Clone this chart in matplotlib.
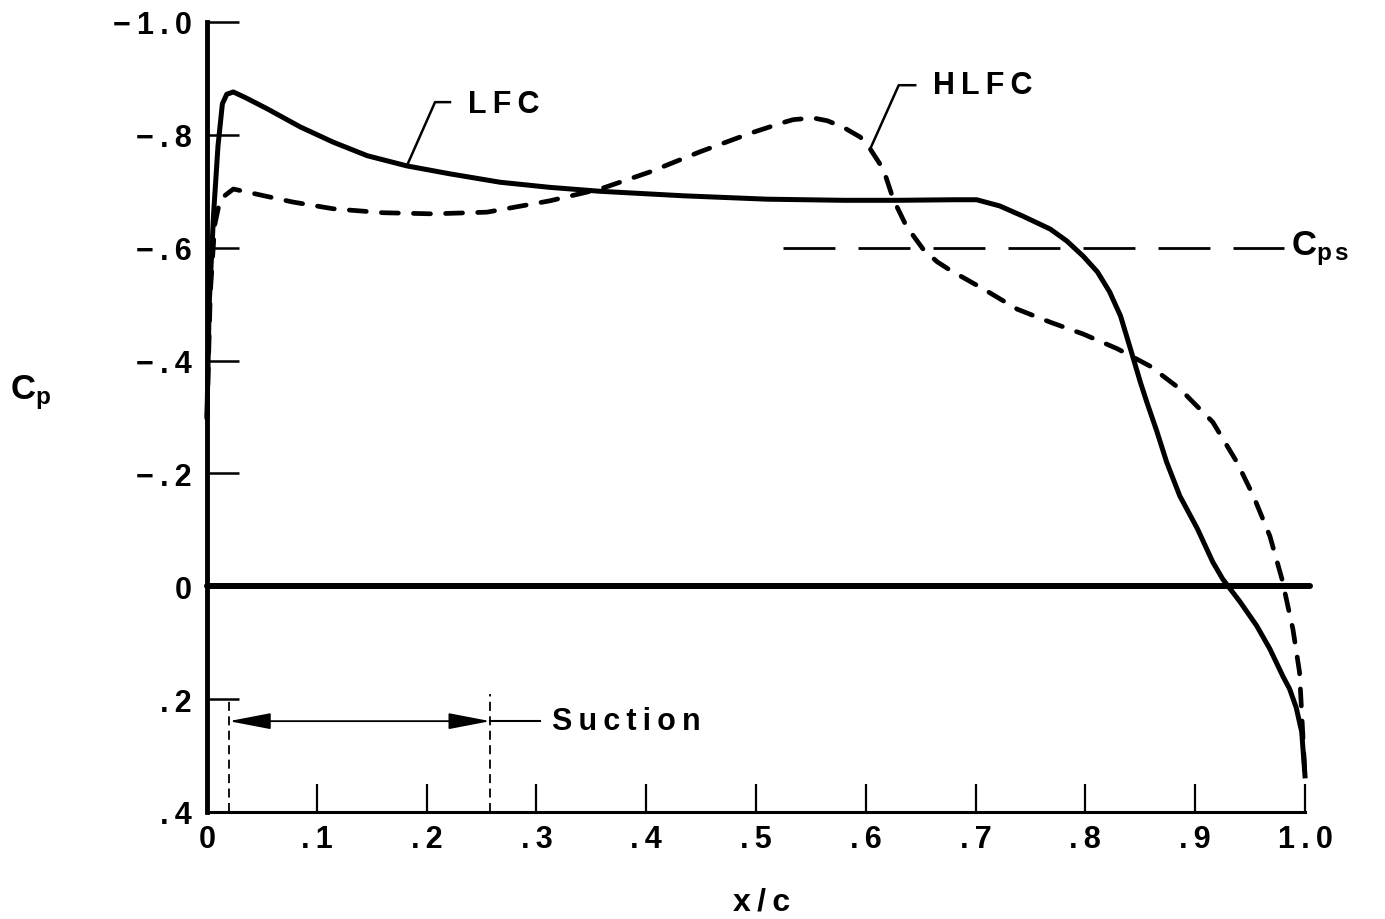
import matplotlib
matplotlib.use('Agg')
import matplotlib.pyplot as plt
from matplotlib import rcParams

rcParams['font.family'] = ['Liberation Sans', 'DejaVu Sans']
rcParams['font.weight'] = 'bold'
rcParams['mathtext.fontset'] = 'custom'
rcParams['mathtext.rm'] = 'Liberation Sans:bold'
rcParams['mathtext.it'] = 'Liberation Sans:bold'
rcParams['mathtext.bf'] = 'Liberation Sans:bold'
rcParams['mathtext.default'] = 'rm'

# LFC pressure distribution (solid)
lfc_x = [0.000, 0.002, 0.006, 0.010, 0.014, 0.018, 0.024, 0.035, 0.055, 0.085,
         0.115, 0.146, 0.182, 0.221, 0.267, 0.312, 0.358, 0.434, 0.510, 0.580,
         0.628, 0.680, 0.701, 0.722, 0.743, 0.768, 0.783, 0.798, 0.811, 0.822,
         0.832, 0.841, 0.850, 0.856, 0.865, 0.874, 0.886, 0.902, 0.916, 0.925,
         0.941, 0.956, 0.968, 0.980, 0.986, 0.992, 0.997, 1.000]
lfc_cp = [-0.30, -0.50, -0.66, -0.78, -0.855, -0.872, -0.876, -0.866, -0.846, -0.814,
          -0.787, -0.763, -0.745, -0.731, -0.716, -0.707, -0.700, -0.692, -0.686, -0.684,
          -0.684, -0.685, -0.685, -0.674, -0.656, -0.633, -0.612, -0.585, -0.557, -0.522,
          -0.479, -0.421, -0.362, -0.326, -0.275, -0.220, -0.160, -0.102, -0.043, -0.013,
          0.028, 0.070, 0.111, 0.160, 0.182, 0.215, 0.258, 0.336]

# HLFC pressure distribution (dashed)
hlfc_x = [0.000, 0.003, 0.007, 0.012, 0.024, 0.045, 0.078, 0.115, 0.160, 0.206,
          0.255, 0.312, 0.358, 0.403, 0.449, 0.495, 0.525, 0.534, 0.552, 0.565,
          0.579, 0.595, 0.604, 0.616, 0.625, 0.637, 0.652, 0.665, 0.677, 0.707,
          0.738, 0.768, 0.798, 0.829, 0.859, 0.886, 0.916, 0.938, 0.953, 0.968,
          0.979, 0.989, 0.995, 1.000]
hlfc_cp = [-0.30, -0.52, -0.64, -0.686, -0.704, -0.695, -0.681, -0.669, -0.662, -0.660,
           -0.663, -0.683, -0.704, -0.734, -0.770, -0.803, -0.822, -0.827, -0.830, -0.825,
           -0.814, -0.796, -0.775, -0.739, -0.686, -0.638, -0.598, -0.575, -0.560, -0.527,
           -0.491, -0.468, -0.447, -0.421, -0.390, -0.350, -0.291, -0.220, -0.160, -0.089,
           -0.013, 0.076, 0.152, 0.336]

cps_value = -0.6
cps_x = [0.525, 0.981]
zero_x = [0.0, 1.005]
suction_start = 0.020
suction_end = 0.258
suction_y = 0.239

xticks = [0, .1, .2, .3, .4, .5, .6, .7, .8, .9, 1.0]
xticklabels = ['0', '.1', '.2', '.3', '.4', '.5', '.6', '.7', '.8', '.9', '1.0']
yticks = [-1.0, -0.8, -0.6, -0.4, -0.2, 0.0, 0.2, 0.4]
yticklabels = ['\u22121.0', '\u2212.8', '\u2212.6', '\u2212.4', '\u2212.2', '0', '.2', '.4']


def spaced(s):
    # the original lettering is widely spaced
    return '\u2009'.join(s)


fig = plt.figure(figsize=(13.85, 9.2), dpi=100)
ax = fig.add_axes([207 / 1385, 1 - 813 / 920, 1098 / 1385, 790 / 920])
ax.set_xlim(0, 1.0)
ax.set_ylim(0.4, -1.0)

for s in ['top', 'right']:
    ax.spines[s].set_visible(False)
ax.spines['left'].set_linewidth(3.5)
ax.spines['bottom'].set_linewidth(2.2)

ax.set_xticks(xticks)
ax.set_xticklabels([spaced(t) for t in xticklabels])
ax.set_yticks(yticks)
ax.set_yticklabels([spaced(t) for t in yticklabels])
ax.tick_params(axis='x', direction='in', length=20, width=1.6, pad=9, labelsize=22)
ax.tick_params(axis='y', direction='in', length=23, width=1.8, pad=11, labelsize=22)

# zero line
ax.plot(zero_x, [0, 0], color='black', lw=4.3, solid_capstyle='round', clip_on=False)

# curves
ax.plot(lfc_x, lfc_cp, color='black', lw=3.6, solid_joinstyle='round', clip_on=False)
ax.plot(hlfc_x, hlfc_cp, color='black', lw=3.4, ls=(0, (3.6, 3.2)),
        dash_capstyle='round', clip_on=False)

# Cps line
ax.plot(cps_x, [cps_value] * 2, color='black', lw=2.0, ls=(0, (18.7, 8.3)))
ax.text(0.987, cps_value, r'$C_{p\,s}$', fontsize=25, va='center', ha='left')

# suction region
ax.plot([suction_start] * 2, [0.4, 0.2], color='black', lw=1.3, ls=(0, (5, 3)))
ax.plot([suction_end] * 2, [0.4, 0.19], color='black', lw=1.3, ls=(0, (5, 3)))
ax.annotate('', xy=(suction_start, suction_y), xytext=(suction_end, suction_y),
            arrowprops=dict(arrowstyle='<|-|>,head_length=1.3,head_width=0.25',
                            mutation_scale=20, lw=1.3, color='black',
                            shrinkA=0, shrinkB=0))
ax.plot([suction_end, 0.303], [suction_y] * 2, color='black', lw=1.5)
ax.text(0.314, suction_y, spaced('Suction'), fontsize=22, va='center', ha='left')

# curve labels with leaders
ax.plot([0.182, 0.2077, 0.2213], [-0.745, -0.858, -0.858], color='black', lw=1.8)
ax.text(0.238, -0.855, spaced('LFC'), fontsize=22, va='center', ha='left')
ax.plot([0.604, 0.630, 0.645], [-0.775, -0.888, -0.888], color='black', lw=1.8)
ax.text(0.661, -0.888, spaced('HLFC'), fontsize=22, va='center', ha='left')

# axis labels
fig.text(10 / 1385, 1 - 393 / 920, r'$C_p$', fontsize=25, va='center', ha='left')
fig.text(762 / 1385, 1 - 903 / 920, spaced('x/c'), fontsize=23, va='center', ha='center')

fig.savefig('out.png', dpi=100)
